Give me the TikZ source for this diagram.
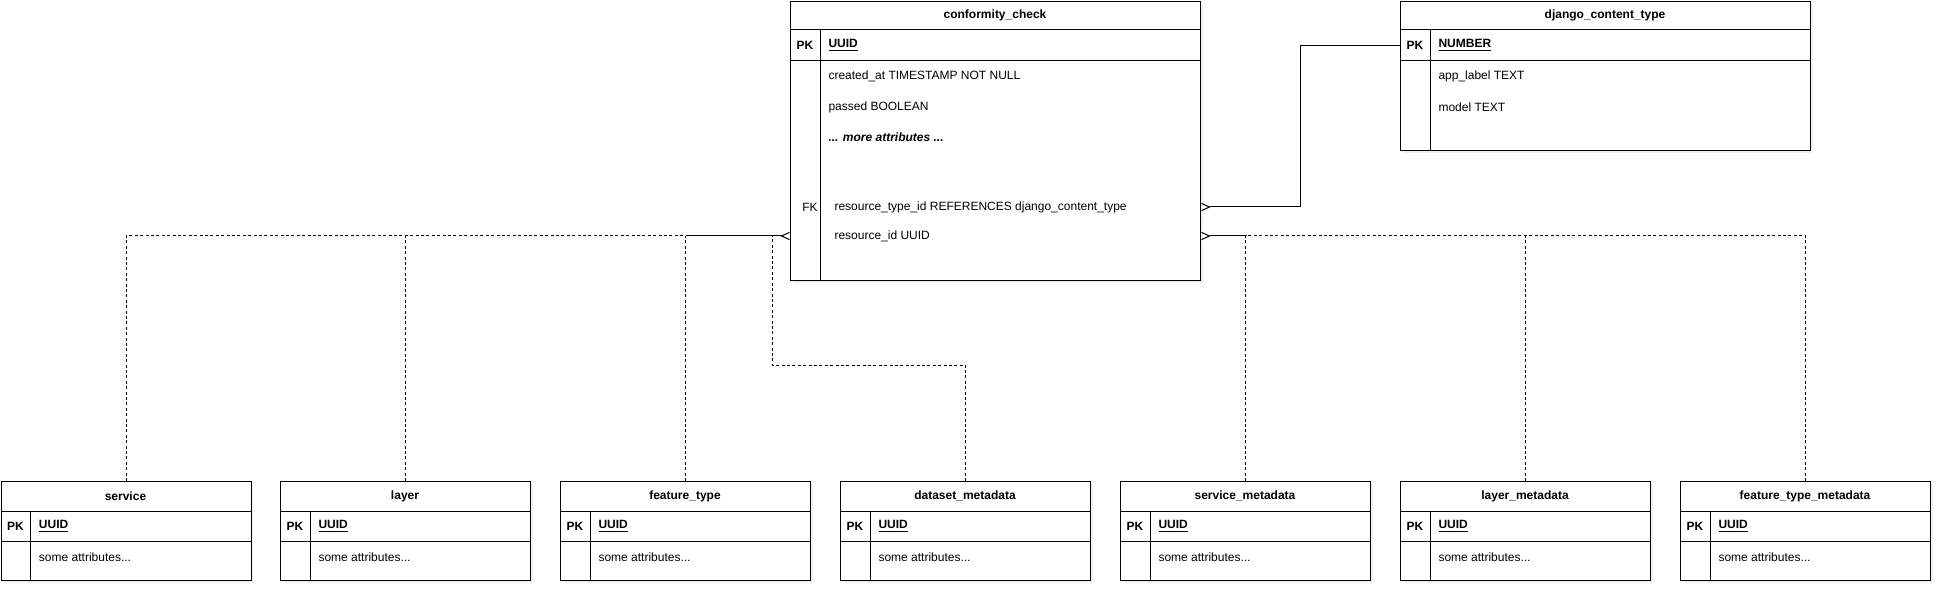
\documentclass[tikz,border=0pt]{standalone}
\usepackage{fontspec}
\setmainfont{Liberation Sans}
\usetikzlibrary{positioning,calc,arrows.meta,shadows}

\begin{document}
\begin{tikzpicture}[x=0.5pt, y=-0.5pt, line width=0.5pt,
  erbox/.style={draw, fill=white, anchor=north west, inner sep=0pt,
    drop shadow={opacity=0.12, shadow xshift=1.2pt, shadow yshift=-1.2pt}},
  title/.style={font=\bfseries\fontsize{6}{7}\selectfont, inner sep=0pt},
  key/.style={font=\bfseries\fontsize{6}{7}\selectfont, inner sep=0pt},
  fkey/.style={font=\fontsize{6}{7}\selectfont, inner sep=0pt},
  pkattr/.style={anchor=west, font=\bfseries\fontsize{6}{7}\selectfont, inner sep=0pt},
  attr/.style={anchor=west, font=\fontsize{6}{7}\selectfont, inner sep=0pt},
  tomany/.style={-{Straight Barb[reversed,length=4pt,width=3.6pt]}},
  polylink/.style={dash pattern=on 1.5pt off 1.2pt}]
\useasboundingbox (0,0) rectangle (1942,593);

% conformity_check
\node[erbox, minimum width=205pt, minimum height=139.5pt] (cc) at (790,1) {};
\draw (790,30) -- (1200,30) (790,61) -- (1200,61) (820,30) -- (820,280);
\node[title] (cctitle) at (995,15.5) {conformity\_check};
\node[key] (ccpk) at (805,45.5) {PK};
\node[pkattr] (ccuuid) at (828,45.5) {\underline{UUID}};
\node[attr] (cccreated) at (828,76) {created\_at TIMESTAMP NOT NULL};
\node[attr] (ccpassed) at (828,107) {passed BOOLEAN};
\node[attr, font=\bfseries\itshape\fontsize{6}{7}\selectfont] (ccmore) at (828,137) {... more attributes ...};
\node[fkey] (ccfk) at (810,207) {FK};
\node[attr] (ccrtype) at (834,207) {resource\_type\_id REFERENCES django\_content\_type};
\node[attr] (ccrid) at (834,236) {resource\_id UUID};

% django_content_type
\node[erbox, minimum width=205pt, minimum height=74.5pt] (dct) at (1400,1) {};
\draw (1400,30) -- (1810,30) (1400,61) -- (1810,61) (1430,30) -- (1430,150);
\node[title] (dcttitle) at (1605,15.5) {django\_content\_type};
\node[key] (dctpk) at (1415,45.5) {PK};
\node[pkattr] (dctnum) at (1438,45.5) {\underline{NUMBER}};
\node[attr] (dctapp) at (1438,76) {app\_label TEXT};
\node[attr] (dctmodel) at (1438,107) {model TEXT};

% service
\node[erbox, minimum width=125pt, minimum height=49.5pt] (svc) at (0.5,481) {};
\draw (0.5,511) -- (250.5,511) (0.5,541) -- (250.5,541) (30.5,511) -- (30.5,580);
\node[title] (svctitle) at (125.5,496) {service};
\node[key] (svcpk) at (15.5,526) {PK};
\node[pkattr] (svcuuid) at (38.5,526) {\underline{UUID}};
\node[attr] (svcattr) at (38.5,557) {some attributes...};

% layer
\node[erbox, minimum width=125pt, minimum height=49.5pt] (lyr) at (280,481) {};
\draw (280,511) -- (530,511) (280,541) -- (530,541) (310,511) -- (310,580);
\node[title] (lyrtitle) at (405,496) {layer};
\node[key] (lyrpk) at (295,526) {PK};
\node[pkattr] (lyruuid) at (318,526) {\underline{UUID}};
\node[attr] (lyrattr) at (318,557) {some attributes...};

% feature_type
\node[erbox, minimum width=125pt, minimum height=49.5pt] (ftype) at (560,481) {};
\draw (560,511) -- (810,511) (560,541) -- (810,541) (590,511) -- (590,580);
\node[title] (ftypetitle) at (685,496) {feature\_type};
\node[key] (ftypepk) at (575,526) {PK};
\node[pkattr] (ftypeuuid) at (598,526) {\underline{UUID}};
\node[attr] (ftypeattr) at (598,557) {some attributes...};

% dataset_metadata
\node[erbox, minimum width=125pt, minimum height=49.5pt] (dsm) at (840,481) {};
\draw (840,511) -- (1090,511) (840,541) -- (1090,541) (870,511) -- (870,580);
\node[title] (dsmtitle) at (965,496) {dataset\_metadata};
\node[key] (dsmpk) at (855,526) {PK};
\node[pkattr] (dsmuuid) at (878,526) {\underline{UUID}};
\node[attr] (dsmattr) at (878,557) {some attributes...};

% service_metadata
\node[erbox, minimum width=125pt, minimum height=49.5pt] (smd) at (1120,481) {};
\draw (1120,511) -- (1370,511) (1120,541) -- (1370,541) (1150,511) -- (1150,580);
\node[title] (smdtitle) at (1245,496) {service\_metadata};
\node[key] (smdpk) at (1135,526) {PK};
\node[pkattr] (smduuid) at (1158,526) {\underline{UUID}};
\node[attr] (smdattr) at (1158,557) {some attributes...};

% layer_metadata
\node[erbox, minimum width=125pt, minimum height=49.5pt] (lmd) at (1400,481) {};
\draw (1400,511) -- (1650,511) (1400,541) -- (1650,541) (1430,511) -- (1430,580);
\node[title] (lmdtitle) at (1525,496) {layer\_metadata};
\node[key] (lmdpk) at (1415,526) {PK};
\node[pkattr] (lmduuid) at (1438,526) {\underline{UUID}};
\node[attr] (lmdattr) at (1438,557) {some attributes...};

% feature_type_metadata
\node[erbox, minimum width=125pt, minimum height=49.5pt] (fmd) at (1680,481) {};
\draw (1680,511) -- (1930,511) (1680,541) -- (1930,541) (1710,511) -- (1710,580);
\node[title] (fmdtitle) at (1805,496) {feature\_type\_metadata};
\node[key] (fmdpk) at (1695,526) {PK};
\node[pkattr] (fmduuid) at (1718,526) {\underline{UUID}};
\node[attr] (fmdattr) at (1718,557) {some attributes...};

% resource_type_id -> django_content_type
\draw[tomany] (dct.west |- dctpk) -- ++(-100,0) |- (cc.east |- ccfk);

% resource_id, left side
\coordinate (dsmbend) at (772,365);
\draw[polylink] (svc.north) |- (ftype.north |- ccrid);
\draw[polylink] (lyr.north) -- (lyr.north |- ccrid);
\draw[polylink] (ftype.north) -- (ftype.north |- ccrid);
\draw[polylink] (dsm.north) |- (dsmbend) -- (dsmbend |- ccrid);
\draw[tomany] (ftype.north |- ccrid) -- (cc.west |- ccrid);

% resource_id, right side
\draw[polylink] (fmd.north) |- (smd.north |- ccrid);
\draw[polylink] (lmd.north) -- (lmd.north |- ccrid);
\draw[polylink] (smd.north) -- (smd.north |- ccrid);
\draw[tomany] (smd.north |- ccrid) -- (cc.east |- ccrid);
\end{tikzpicture}
\end{document}
